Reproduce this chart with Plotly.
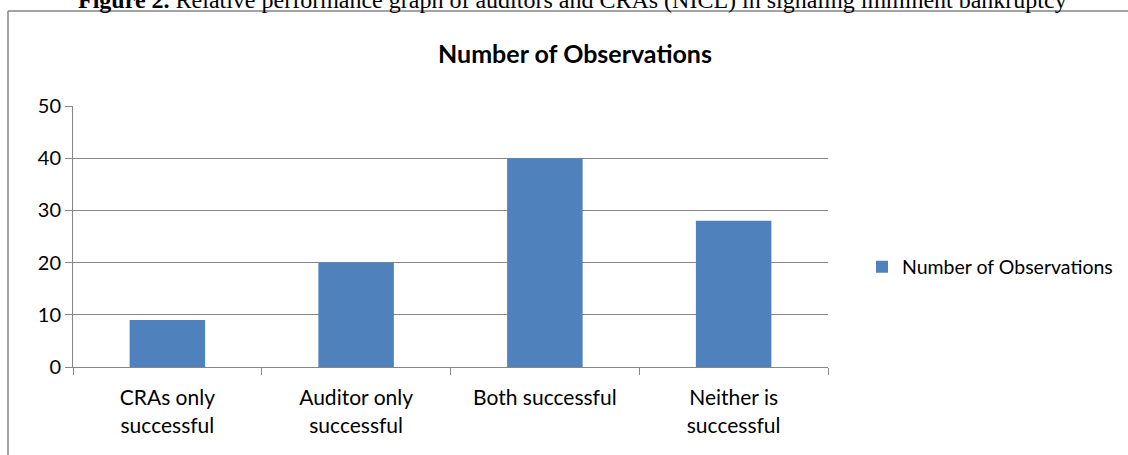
import plotly.graph_objects as go

categories = ["CRAs only<br>successful", "Auditor only<br>successful", "Both successful", "Neither is<br>successful"]
values = [9, 20, 40, 28]
series_name = "Number of Observations"
y_ticks = [0, 10, 20, 30, 40, 50]

W, H = 1128, 455
L, R, T, B = 73, 828, 106, 367

def px_x(x):
    return (x - L) / (R - L)

def px_y(y):
    return (B - y) / (B - T)

fig = go.Figure()
fig.add_trace(go.Bar(
    x=categories, y=values, name=series_name,
    marker=dict(color="#4f81bd", line=dict(width=0)),
    showlegend=True,
))

grid = "#868686"
fig.update_layout(
    width=W, height=H,
    margin=dict(l=L, r=W - R, t=T, b=H - B, autoexpand=False),
    paper_bgcolor="white", plot_bgcolor="white",
    font=dict(family="Lato, Open Sans, sans-serif", color="#000000", size=20),
    bargap=0.6,
    title=dict(text="<b>Number of Observations</b>", x=575 / W, xanchor="center",
               y=1 - 54 / H, yanchor="middle", yref="container",
               font=dict(size=25, family="Lato, sans-serif", color="#000")),
    legend=dict(x=px_x(862), y=px_y(267), xanchor="left", yanchor="middle",
                font=dict(size=19.5), bgcolor="rgba(0,0,0,0)",
                itemwidth=30, traceorder="normal"),
    xaxis=dict(showgrid=False, showline=True, linecolor=grid, linewidth=1,
               ticks="outside", tickson="boundaries", ticklen=7, tickcolor=grid,
               tickfont=dict(size=21), ticklabelstandoff=12),
    yaxis=dict(range=[0, 50], tickvals=y_ticks, showgrid=True, gridcolor=grid,
               gridwidth=1, showline=True, linecolor=grid, linewidth=1,
               ticks="outside", ticklen=7, tickcolor=grid, zeroline=False,
               tickfont=dict(size=20), ticklabelstandoff=0),
)

# outer chart border (left and top edges visible)
fig.add_shape(type="line", xref="paper", yref="paper",
              x0=px_x(8), x1=px_x(1140), y0=px_y(11), y1=px_y(11),
              line=dict(color="#868686", width=1.5))
fig.add_shape(type="line", xref="paper", yref="paper",
              x0=px_x(8), x1=px_x(8), y0=px_y(11), y1=px_y(470),
              line=dict(color="#868686", width=1.5))

# figure caption at top (partly cut in the reference)
fig.add_annotation(text="<b>Figure 2.</b> Relative performance graph of auditors and CRAs (NICL) in signaling imminent bankruptcy",
                   xref="paper", yref="paper", x=px_x(572), y=px_y(15),
                   xanchor="center", yanchor="bottom", showarrow=False,
                   font=dict(family="Liberation Serif, serif", size=24, color="#000"))

fig.write_html("out.html", config={"displayModeBar": False},
               post_script="document.body.style.margin='0';")
